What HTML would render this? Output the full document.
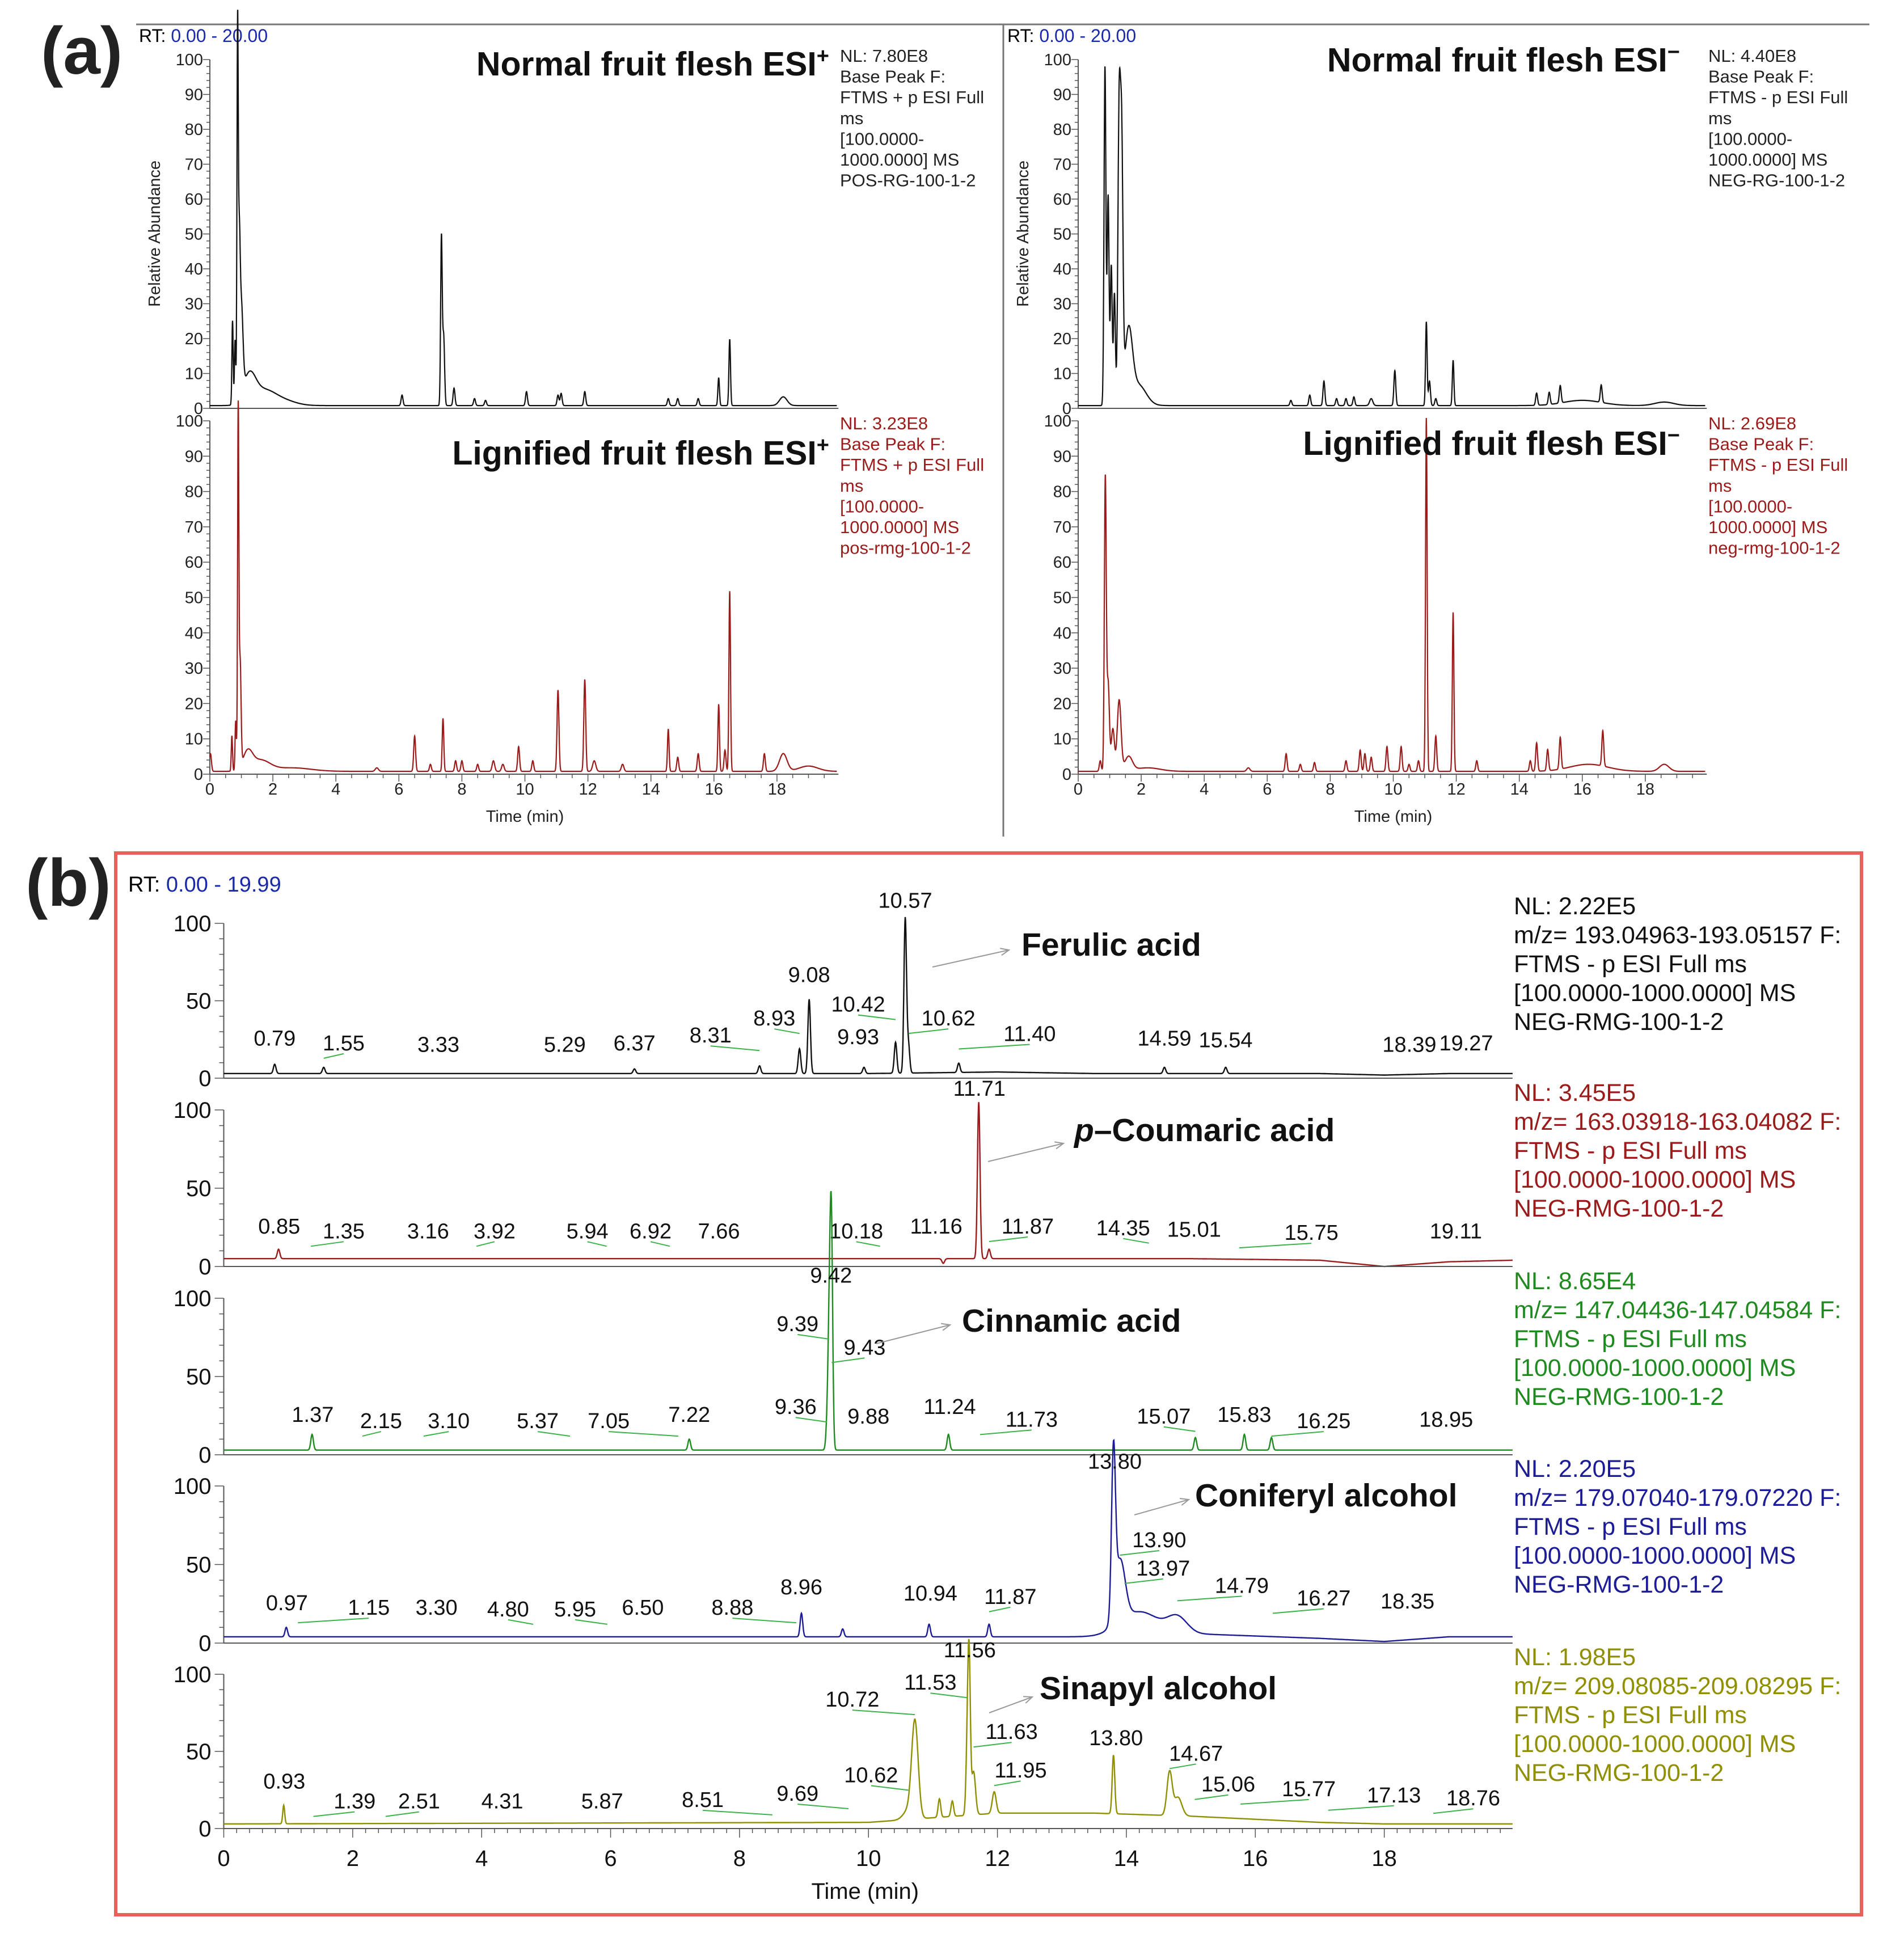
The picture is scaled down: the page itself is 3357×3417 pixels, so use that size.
<!DOCTYPE html>
<html><head><meta charset="utf-8"><style>
html,body{margin:0;padding:0;background:#fff}
svg{display:block}
text{font-family:"Liberation Sans",Arial,sans-serif}
</style></head><body>
<svg id="fig" width="3357" height="3417" viewBox="0 0 3357 3417" xmlns="http://www.w3.org/2000/svg">
<rect width="3357" height="3417" fill="#fff"/>
<g id="g"></g>
</svg>
<script>
// ---------- Panel (a) data: peaks (time min, relative height %, width min) ----------
const aNposT=[0.72,0.80,0.88,0.93,1.00,1.25,1.7,2.3,6.1,7.35,7.42,7.75,8.4,8.75,10.05,11.05,11.15,11.9,14.55,14.85,15.5,16.15,16.5,18.2];
const aNposH=[24,18,100,40,25,8,4,1.5,3,48,20,5,2,1.5,4,3,3.5,4,2,2,2,8,19,2.5];
const aNposW=[0.02,0.02,0.02,0.03,0.05,0.2,0.35,0.4,0.03,0.025,0.03,0.03,0.03,0.03,0.03,0.03,0.03,0.03,0.03,0.03,0.03,0.025,0.025,0.12];
const aLposT=[0.02,0.70,0.82,0.90,0.96,1.2,1.6,2.6,5.3,6.5,7.0,7.4,7.8,8.0,8.5,9.0,9.3,9.8,10.25,11.05,11.9,12.2,13.1,14.55,14.85,15.5,16.15,16.35,16.5,17.6,18.2,19.0];
const aLposH=[5,10,14,100,30,5,3,1,1,10,2,15,3,3,2,3,2,7,3,23,26,3,2,12,4,5,19,6,51,5,5,1.5];
const aLposW=[0.03,0.02,0.02,0.02,0.03,0.15,0.3,0.6,0.05,0.03,0.03,0.025,0.03,0.03,0.03,0.04,0.04,0.03,0.03,0.03,0.03,0.05,0.04,0.025,0.03,0.03,0.025,0.03,0.025,0.03,0.12,0.3];
const aNnegT=[0.85,0.95,1.05,1.15,1.3,1.38,1.6,1.9,6.75,7.35,7.8,8.2,8.5,8.75,9.3,10.05,11.05,11.15,11.35,11.9,14.55,14.95,15.3,16.0,16.6,18.6];
const aNnegH=[97,60,40,32,82,70,20,6,1.5,3,7,2,2,2.5,2,10,24,7,2,13,3.5,3.5,5,1.5,5,1];
const aNnegW=[0.03,0.03,0.03,0.03,0.04,0.04,0.12,0.25,0.03,0.03,0.03,0.03,0.03,0.03,0.05,0.03,0.025,0.03,0.03,0.025,0.03,0.03,0.03,0.6,0.03,0.3];
const aLnegT=[0.7,0.86,0.95,1.1,1.3,1.6,2.2,5.4,6.6,7.05,7.5,8.5,8.95,9.1,9.3,9.8,10.25,10.5,10.8,11.05,11.35,11.9,12.65,14.35,14.55,14.9,15.3,16.2,16.65,18.6];
const aLnegH=[3,82,25,12,20,4,1,1,5,2,2.5,3,6,5,4,7,7,2,3,100,10,45,3,3,8,6,9,2,10,2];
const aLnegW=[0.03,0.03,0.04,0.05,0.06,0.12,0.4,0.05,0.03,0.03,0.03,0.03,0.03,0.03,0.03,0.03,0.03,0.03,0.03,0.025,0.03,0.025,0.03,0.03,0.03,0.03,0.03,0.6,0.03,0.15];
// ---------- Panel (b) data ----------
const bFerT=[0.79,1.55,6.37,8.31,8.93,9.08,9.93,10.42,10.57,10.62,11.40,14.59,15.54];
const bFerH=[6,4,3,5,16,48,4,20,100,18,6,4,4];
const bFerLab=["0.79","1.55","3.33","5.29","6.37","8.31","8.93","9.08","9.93","10.42","10.57","10.62","11.40","14.59","15.54","18.39","19.27"];
const bFerLX=[0.79,1.86,3.33,5.29,6.37,7.55,8.54,9.08,9.84,9.84,10.57,11.24,12.5,14.59,15.54,18.39,19.27];
const bFerLY=[21,18,17,17,18,23,34,62,22,43,110,34,24,21,20,17,18];
const bCouT=[0.85,11.16,11.71,11.87];
const bCouH=[6,-3,100,6];
const bCouLab=["0.85","1.35","3.16","3.92","5.94","6.92","7.66","10.18","11.16","11.71","11.87","14.35","15.01","15.75","19.11"];
const bCouLX=[0.86,1.86,3.17,4.2,5.64,6.62,7.68,9.81,11.05,11.72,12.47,13.95,15.05,16.87,19.11];
const bCouLY=[21,18,18,18,18,18,18,18,21,109,21,20,19,17,18];
const bCinT=[1.37,7.22,9.36,9.39,9.42,9.43,11.24,15.07,15.83,16.25];
const bCinH=[10,7,15,65,100,50,10,8,10,8];
const bCinLab=["1.37","2.15","3.10","5.37","7.05","7.22","9.36","9.39","9.42","9.43","9.88","11.24","11.73","15.07","15.83","16.25","18.95"];
const bCinLX=[1.38,2.44,3.49,4.87,5.97,7.22,8.87,8.9,9.42,9.94,10.0,11.26,12.53,14.58,15.83,17.06,18.96];
const bCinLY=[21,17,17,17,17,21,26,79,110,64,20,26,18,20,21,17,18];
const bConT=[0.97,8.96,9.6,10.94,11.87,13.80,13.9,14.2,14.79];
const bConH=[6,15,5,8,8,100,40,15,10];
const bConW=[0.02,0.02,0.02,0.02,0.02,0.03,0.08,0.3,0.15];
const bConLab=["0.97","1.15","3.30","4.80","5.95","6.50","8.88","8.96","10.94","11.87","13.80","13.90","13.97","14.79","16.27","18.35"];
const bConLX=[0.98,2.25,3.3,4.41,5.45,6.5,7.89,8.96,10.96,12.2,13.82,14.51,14.57,15.79,17.06,18.36];
const bConLY=[21,18,18,17,17,18,18,31,27,25,111,61,43,32,24,22];
const bSinT=[0.93,10.62,10.72,11.1,11.3,11.53,11.56,11.63,11.95,13.80,14.67,14.8];
const bSinH=[12,6,62,12,10,35,100,28,14,38,28,12];
const bSinW=[0.015,0.08,0.05,0.02,0.02,0.02,0.02,0.03,0.03,0.02,0.04,0.06];
const bSinLab=["0.93","1.39","2.51","4.31","5.87","8.51","9.69","10.62","10.72","11.53","11.56","11.63","11.95","13.80","14.67","15.06","15.77","17.13","18.76"];
const bSinLX=[0.94,2.03,3.03,4.32,5.87,7.43,8.9,10.04,9.75,10.96,11.57,12.22,12.36,13.84,15.08,15.58,16.83,18.15,19.38];
const bSinLY=[26,13,13,13,13,14,18,30,79,90,111,58,33,54,44,24,21,17,15];
// baselines (time, level %)
const bBaseT=[0,10,12,13.5,15,17,18,19,20];
const bFerB=[3,3,4,3,3,3,2,3,3];
const bCouB=[5,5,5,5,5,4,0,3,4];
const bCinB=[3,3,3,3,3,3,3,3,3];
const bConB=[4,4,4,4,6,3,1,4,4];
const bSinB=[3,4,10,10,8,4,3,3,3];

const NS="http://www.w3.org/2000/svg";
const G=document.getElementById('g');
function el(tag,attrs,parent){const e=document.createElementNS(NS,tag);for(const k in attrs)e.setAttribute(k,attrs[k]);(parent||G).appendChild(e);return e;}
function txt(s,x,y,size,color,anchor,weight,parent){const t=el('text',{x:x,y:y,'font-size':size,fill:color||'#000','text-anchor':anchor||'start','font-weight':weight||'normal'},parent);t.textContent=s;return t;}
function axis(x0,x20,y0,y100){return {x:t=>x0+(x20-x0)*t/20,y:v=>y0+(y100-y0)*v/100,x0,x20,y0,y100};}
function interp(ts,vs,t){for(let i=0;i<ts.length-1;i++){if(t<=ts[i+1]){const f=(t-ts[i])/(ts[i+1]-ts[i]);return vs[i]+f*(vs[i+1]-vs[i]);}}return vs[vs.length-1];}
function tracePath(ax,T,H,W,defW,baseT,baseV,tmax){
  let d='';
  for(let i=0;i<=Math.round(tmax*200);i++){const t=i/200;let v=baseT?interp(baseT,baseV,t):0.8;
    for(let k=0;k<T.length;k++){const w=W?W[k]:defW;const z=(t-T[k])/w;if(Math.abs(z)<6)v+=H[k]*Math.exp(-0.5*z*z);}
    d+=(i?'L':'M')+ax.x(t).toFixed(1)+' '+ax.y(v).toFixed(1);}
  return d;}

// ---------- Panel (a) ----------
el('line',{x1:240,y1:43,x2:3296,y2:43,stroke:'#777','stroke-width':3});
el('line',{x1:1769,y1:43,x2:1769,y2:1475,stroke:'#777','stroke-width':3});
const la=txt('(a)',72,130,118,'#222','start','bold');

function aPanel(x0,nameP,titles,titleEnd,titleY,texts,series){
  const gp=el('g',{});
  const rt=el('text',{x:x0-125,y:74,'font-size':32},gp);rt.innerHTML='RT: <tspan fill="#1a2aa8">0.00 - 20.00</tspan>';
  
  const axes=[axis(x0,x0+1111,720,105),axis(x0,x0+1111,1365,742)];
  axes.forEach((ax,idx)=>{
    const ga=el('g',{},gp);
    el('line',{x1:ax.x0,y1:ax.y0,x2:ax.x0,y2:ax.y100,stroke:'#555','stroke-width':2},ga);
    for(let v=0;v<=100;v+=2){const y=ax.y(v);el('line',{x1:ax.x0-(v%10?6:12),y1:y,x2:ax.x0,y2:y,stroke:'#555','stroke-width':1.5},ga);}
    for(let v=0;v<=100;v+=10){const tl=txt(String(v),ax.x0-12,ax.y(v)+10,29,'#222','end','normal',ga);}
    const s=series[idx];
    const p=el('path',{d:tracePath(ax,s.T,s.H,s.W,0.03,null,null,19.9),fill:'none',stroke:s.c,'stroke-width':2.2},ga);
    
    el('line',{x1:ax.x0,y1:ax.y0,x2:ax.x(19.95),y2:ax.y0,stroke:'#555','stroke-width':2},ga);
    const tt=txt('',titleEnd,titleY[idx],59,'#111','end','bold',ga);tt.innerHTML=titles[idx];
    
    const tb=el('g',{},ga);
    texts[idx].forEach((l,i)=>txt(l,ax.x0+1111,(idx?757:109)+i*36.6,31,idx?'#9b1b1b':'#222','start','normal',tb));
  });
  const bx=axes[1];
  for(let t=0;t<=19.9;t+=0.5){const x=bx.x(t);el('line',{x1:x,y1:bx.y0,x2:x,y2:bx.y0+(t%2?7:13),stroke:'#555','stroke-width':1.5},gp);}
  for(let t=0;t<=18;t+=2){const tl=txt(String(t),bx.x(t),1401,29,'#222','middle','normal',gp);}
  const xl=txt('Time (min)',bx.x(10),1449,29,'#222','middle','normal',gp);
  const yl=txt('Relative Abundance',0,0,29,'#222','middle','normal',gp);yl.setAttribute('transform',`translate(${x0-88},412) rotate(-90)`);
  
}
aPanel(370,'panel-a-esi-positive',['Normal fruit flesh ESI<tspan dy="-22" font-size="38">+</tspan>','Lignified fruit flesh ESI<tspan dy="-22" font-size="38">+</tspan>'],1462,[133,819],
 [['NL: 7.80E8','Base Peak F:','FTMS + p ESI Full','ms','[100.0000-','1000.0000]  MS','POS-RG-100-1-2'],['NL: 3.23E8','Base Peak F:','FTMS + p ESI Full','ms','[100.0000-','1000.0000]  MS','pos-rmg-100-1-2']],
 [{T:aNposT,H:aNposH,W:aNposW,c:'#111'},{T:aLposT,H:aLposH,W:aLposW,c:'#9b1b1b'}]);
aPanel(1901,'panel-a-esi-negative',['Normal fruit flesh ESI<tspan dy="-22" font-size="38">−</tspan>','Lignified fruit flesh ESI<tspan dy="-22" font-size="38">−</tspan>'],2962,[126,802],
 [['NL: 4.40E8','Base Peak F:','FTMS - p ESI Full','ms','[100.0000-','1000.0000]  MS','NEG-RG-100-1-2'],['NL: 2.69E8','Base Peak F:','FTMS - p ESI Full','ms','[100.0000-','1000.0000]  MS','neg-rmg-100-1-2']],
 [{T:aNnegT,H:aNnegH,W:aNnegW,c:'#111'},{T:aLnegT,H:aLnegH,W:aLnegW,c:'#9b1b1b'}]);

// ---------- Panel (b) ----------
const bb=el('rect',{x:204,y:1504,width:3078,height:1872,fill:'none',stroke:'#e8605a','stroke-width':6});

const lb=txt('(b)',45,1597,118,'#222','start','bold');
const rtb=el('text',{x:226,y:1572,'font-size':38});rtb.innerHTML='RT: <tspan fill="#1a2aa8">0.00 - 19.99</tspan>';

const bY=[[1901,1628],[2233,1957],[2565,2289],[2897,2620],[3224,2952]];
const bSeries=[
 {n:'ferulic-acid',T:bFerT,H:bFerH,W:null,B:bFerB,lab:bFerLab,lx:bFerLX,ly:bFerLY,c:'#111',name:'Ferulic acid',nx:1801,ny:1685,ar:[1644,1705,1779,1675],
  info:['NL: 2.22E5','m/z= 193.04963-193.05157 F:','FTMS - p ESI Full ms','[100.0000-1000.0000]  MS','NEG-RMG-100-1-2']},
 {n:'p-coumaric-acid',T:bCouT,H:bCouH,W:null,B:bCouB,lab:bCouLab,lx:bCouLX,ly:bCouLY,c:'#9b1b1b',name:'<tspan font-style="italic">p</tspan>–Coumaric acid',nx:1894,ny:2012,ar:[1742,2048,1875,2016],
  info:['NL: 3.45E5','m/z= 163.03918-163.04082 F:','FTMS - p ESI Full ms','[100.0000-1000.0000]  MS','NEG-RMG-100-1-2']},
 {n:'cinnamic-acid',T:bCinT,H:bCinH,W:null,B:bCinB,lab:bCinLab,lx:bCinLX,ly:bCinLY,c:'#1f8a1f',name:'Cinnamic acid',nx:1696,ny:2348,ar:[1545,2369,1675,2336],
  info:['NL: 8.65E4','m/z= 147.04436-147.04584 F:','FTMS - p ESI Full ms','[100.0000-1000.0000]  MS','NEG-RMG-100-1-2']},
 {n:'coniferyl-alcohol',T:bConT,H:bConH,W:bConW,B:bConB,lab:bConLab,lx:bConLX,ly:bConLY,c:'#1c1c96',name:'Coniferyl alcohol',nx:2107,ny:2656,ar:[2000,2671,2096,2644],
  info:['NL: 2.20E5','m/z= 179.07040-179.07220 F:','FTMS - p ESI Full ms','[100.0000-1000.0000]  MS','NEG-RMG-100-1-2']},
 {n:'sinapyl-alcohol',T:bSinT,H:bSinH,W:bSinW,B:bSinB,lab:bSinLab,lx:bSinLX,ly:bSinLY,c:'#8f8f00',name:'Sinapyl alcohol',nx:1833,ny:2996,ar:[1744,3020,1820,2992],
  info:['NL: 1.98E5','m/z= 209.08085-209.08295 F:','FTMS - p ESI Full ms','[100.0000-1000.0000]  MS','NEG-RMG-100-1-2']}
];
bSeries.forEach((s,idx)=>{
  const ax=axis(394.5,2668,bY[idx][0],bY[idx][1]);
  const gs=el('g',{});
  el('line',{x1:ax.x0,y1:ax.y0,x2:ax.x0,y2:ax.y100,stroke:'#555','stroke-width':2},gs);
  for(let v=0;v<=100;v+=10){const y=ax.y(v);el('line',{x1:ax.x0-(v%50?8:16),y1:y,x2:ax.x0,y2:y,stroke:'#555','stroke-width':1.5},gs);}
  [0,50,100].forEach(v=>{const tl=txt(String(v),ax.x0-22,ax.y(v)+14,40,'#111','end','normal',gs);});
  const p=el('path',{d:tracePath(ax,s.T,s.H,s.W,0.02,bBaseT,s.B,19.99),fill:'none',stroke:s.c,'stroke-width':2.4},gs);
  
  el('line',{x1:ax.x0,y1:ax.y0,x2:ax.x(19.99),y2:ax.y0,stroke:'#555','stroke-width':2},gs);
  s.lab.forEach((l,i)=>{
    const lx=ax.x(s.lx[i]),ly=ax.y(s.ly[i]);const pt=ax.x(parseFloat(l));
    if(Math.abs(lx-pt)>20){const ld=el('line',{x1:lx,y1:ly+6,x2:pt,y2:ly+14,stroke:'#3cb34a','stroke-width':2},gs);}
    const tl=txt(l,lx,ly,38,'#111','middle','normal',gs);
  });
  const nm=el('text',{x:s.nx,y:s.ny,'font-size':57,'font-weight':'bold',fill:'#111'},gs);nm.innerHTML=s.name;
  
  const arw=el('g',{},gs);
  el('line',{x1:s.ar[0],y1:s.ar[1],x2:s.ar[2],y2:s.ar[3],stroke:'#999','stroke-width':2},arw);
  const a=Math.atan2(s.ar[3]-s.ar[1],s.ar[2]-s.ar[0]);
  el('path',{d:`M${s.ar[2]-16*Math.cos(a-0.4)} ${s.ar[3]-16*Math.sin(a-0.4)}L${s.ar[2]} ${s.ar[3]}L${s.ar[2]-16*Math.cos(a+0.4)} ${s.ar[3]-16*Math.sin(a+0.4)}`,fill:'none',stroke:'#999','stroke-width':2},arw);
  const inf=el('g',{},gs);
  s.info.forEach((l,i)=>txt(l,2669,ax.y100-16+i*51,43,idx?s.c:'#111','start','normal',inf));
  if(idx===4){
    for(let t=0;t<=19.99;t+=0.2){const x=ax.x(t);const m=Math.abs(t-Math.round(t/2)*2)<0.01;el('line',{x1:x,y1:ax.y0,x2:x,y2:ax.y0+(m?16:8),stroke:'#555','stroke-width':1.5},gs);}
    for(let t=0;t<=18;t+=2){const tl=txt(String(t),ax.x(t),3290,40,'#111','middle','normal',gs);}
    const xl=txt('Time (min)',ax.x(10)-6,3348,40,'#111','middle','normal',gs);
  }
});
</script>
</body></html>
